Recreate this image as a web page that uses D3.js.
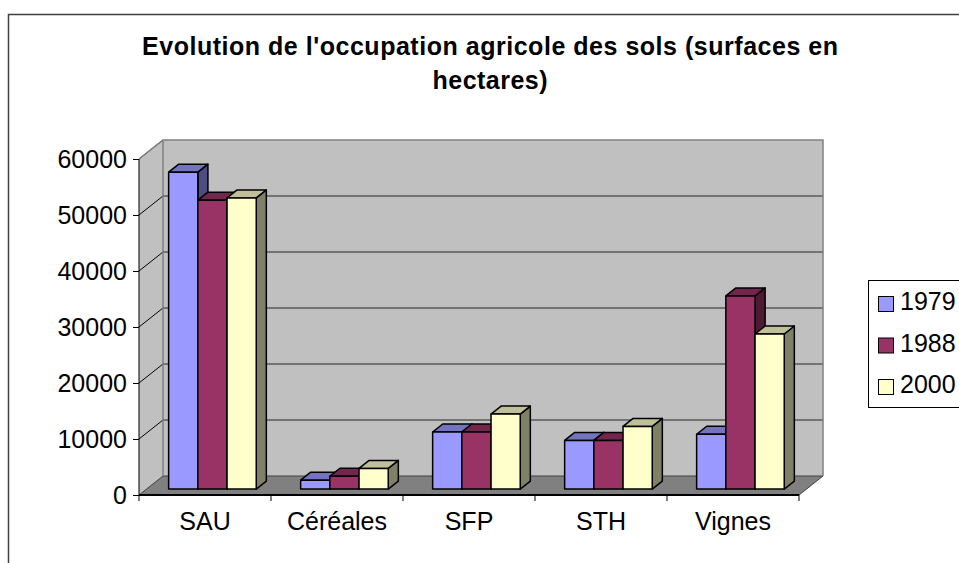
<!DOCTYPE html>
<html>
<head>
<meta charset="utf-8">
<script src="https://cdn.jsdelivr.net/npm/d3@7"></script>
<style>
  body { margin: 0; background: #fff; }
  svg { display: block; }
</style>
</head>
<body>
<div id="chart"></div>
<script>
// data
const categories = ["SAU", "Céréales", "SFP", "STH", "Vignes"];
const years = ["1979", "1988", "2000"];
const values1979 = [56600, 1600, 10200, 8700, 9800];
const values1988 = [51600, 2300, 10200, 8700, 34500];
const values2000 = [52000, 3700, 13400, 11200, 27700];
const yTicks = [0, 10000, 20000, 30000, 40000, 50000, 60000];
const seriesColors = ["#9999ff", "#993366", "#ffffcc"];

const series = [values1979, values1988, values2000];

const W = 959, H = 563;
const font = "'Liberation Sans', Arial, sans-serif";

const svg = d3.select("#chart").append("svg")
    .attr("width", W)
    .attr("height", H);

// outer chart border (runs off the right and bottom edges)
svg.append("rect")
    .attr("x", 8.5).attr("y", 14.5)
    .attr("width", 1000).attr("height", 600)
    .attr("fill", "#fff")
    .attr("stroke", "#404040")
    .attr("stroke-width", 1.5);

// title
const title = svg.append("text")
    .attr("text-anchor", "middle")
    .attr("font-family", font)
    .attr("font-weight", "bold")
    .attr("font-size", 25)
    .attr("fill", "#000");
title.append("tspan").attr("x", 490).attr("y", 55)
    .attr("textLength", 696).attr("lengthAdjust", "spacing")
    .text("Evolution de l'occupation agricole des sols (surfaces en");
title.append("tspan").attr("x", 490).attr("y", 89)
    .attr("textLength", 115).attr("lengthAdjust", "spacing")
    .text("hectares)");

// scales, front plane
const x0 = d3.scaleBand().domain(categories).range([139, 799]);
const x1 = d3.scaleBand().domain(years).range([0, x0.bandwidth()]).paddingOuter(0.76);
const y = d3.scaleLinear().domain([0, 60000]).range([495, 159]);

// depth of the 3d box
const DX = 24, DY = 19;
const d0 = 0.31, d1 = 0.73;   // bars sit between these depth fractions
const off = d => [DX * d, DY * d];

const [x0l, x0r] = x0.range();

// back wall
svg.append("rect")
    .attr("x", x0l + DX).attr("y", y(60000) - DY)
    .attr("width", x0r - x0l).attr("height", y(0) - y(60000))
    .attr("fill", "#c0c0c0");

// side wall
svg.append("path")
    .attr("d", d3.line()([
        [x0l, y(60000)], [x0l + DX, y(60000) - DY],
        [x0l + DX, y(0) - DY], [x0l, y(0)]
    ]) + "Z")
    .attr("fill", "#c0c0c0");

// floor
svg.append("path")
    .attr("d", d3.line()([
        [x0l, y(0)], [x0r, y(0)], [x0r + DX, y(0) - DY], [x0l + DX, y(0) - DY]
    ]) + "Z")
    .attr("fill", "#808080")
    .attr("stroke", "#404040")
    .attr("stroke-width", 1);

// gridlines on back wall and side wall
svg.append("g").selectAll("line")
    .data(yTicks.filter(t => t > 0 && t < 60000))
    .join("line")
    .attr("x1", x0l + DX).attr("x2", x0r + DX)
    .attr("y1", d => y(d) - DY).attr("y2", d => y(d) - DY)
    .attr("stroke", "#5a5a5a")
    .attr("stroke-width", 1.5);

svg.append("g").selectAll("line")
    .data(yTicks.filter(t => t > 0))
    .join("line")
    .attr("x1", x0l).attr("x2", x0l + DX)
    .attr("y1", d => y(d)).attr("y2", d => y(d) - DY)
    .attr("stroke", "#000")
    .attr("stroke-width", 1);

// wall outlines
svg.append("path")
    .attr("d", d3.line()([
        [x0l, y(60000)], [x0l + DX, y(60000) - DY], [x0r + DX, y(60000) - DY], [x0r + DX, y(0) - DY]
    ]))
    .attr("fill", "none")
    .attr("stroke", "#808080")
    .attr("stroke-width", 1.5);
svg.append("line")
    .attr("x1", x0l + DX).attr("x2", x0l + DX)
    .attr("y1", y(60000) - DY).attr("y2", y(0) - DY)
    .attr("stroke", "#808080")
    .attr("stroke-width", 1.5);

// bars
const shade = (c, k) => {
    const r = d3.rgb(c);
    return d3.rgb(r.r * k, r.g * k, r.b * k).formatHex();
};
const [fx, fy] = off(d0);
const ddx = DX * (d1 - d0), ddy = DY * (d1 - d0);

const bars = svg.append("g")
    .attr("stroke", "#000")
    .attr("stroke-width", 1.5)
    .attr("stroke-linejoin", "round");

categories.forEach((cat, ci) => {
    years.forEach((yr, si) => {
        const v = series[si][ci];
        const xl = x0(cat) + x1(yr) + fx;
        const xr = xl + x1.bandwidth();
        const yt = y(v) - fy;
        const yb = y(0) - fy;
        const col = seriesColors[si];
        bars.append("path")
            .attr("d", d3.line()([[xr, yt], [xr + ddx, yt - ddy], [xr + ddx, yb - ddy], [xr, yb]]) + "Z")
            .attr("fill", shade(col, 0.5));
        bars.append("path")
            .attr("d", d3.line()([[xl, yt], [xr, yt], [xr + ddx, yt - ddy], [xl + ddx, yt - ddy]]) + "Z")
            .attr("fill", shade(col, 0.75));
        bars.append("rect")
            .attr("x", xl).attr("y", yt)
            .attr("width", xr - xl).attr("height", yb - yt)
            .attr("fill", col);
    });
});

// y axis
svg.append("g")
    .attr("transform", `translate(${x0l},0)`)
    .call(d3.axisLeft(y).tickValues(yTicks).tickSize(6).tickPadding(6).tickFormat(d3.format("d")))
    .call(g => g.select(".domain").attr("stroke", "#000").attr("d", `M0,${y(60000)}V${y(0)}`))
    .call(g => g.selectAll("text")
        .attr("font-family", font)
        .attr("font-size", 25)
        .attr("fill", "#000"));

// x axis
svg.append("g")
    .attr("transform", `translate(0,${y(0)})`)
    .call(d3.axisBottom(x0).tickSize(0).tickPadding(0))
    .call(g => g.select(".domain").attr("stroke", "#000").attr("stroke-width", 2).attr("d", `M${x0l},0H${x0r}`))
    .call(g => g.selectAll("text")
        .attr("y", 35).attr("dy", 0)
        .attr("font-family", font)
        .attr("font-size", 25)
        .attr("fill", "#000"));

svg.append("g").selectAll("line")
    .data(categories.map(c => x0(c)).concat([x0r]))
    .join("line")
    .attr("x1", d => d).attr("x2", d => d)
    .attr("y1", y(0)).attr("y2", y(0) + 6)
    .attr("stroke", "#000");

// legend
const legend = svg.append("g");
legend.append("rect")
    .attr("x", 868.5).attr("y", 280.5)
    .attr("width", 120).attr("height", 127)
    .attr("fill", "#fff")
    .attr("stroke", "#000");

const items = legend.selectAll("g.item")
    .data(years)
    .join("g")
    .attr("class", "item")
    .attr("transform", (d, i) => `translate(0,${310 + i * 41.5})`);
items.append("rect")
    .attr("x", 878.5).attr("y", -13.5)
    .attr("width", 15).attr("height", 15)
    .attr("fill", (d, i) => seriesColors[i])
    .attr("stroke", "#000");
items.append("text")
    .attr("x", 900)
    .attr("font-family", font)
    .attr("font-size", 25)
    .attr("fill", "#000")
    .text(d => d);
</script>
</body>
</html>
